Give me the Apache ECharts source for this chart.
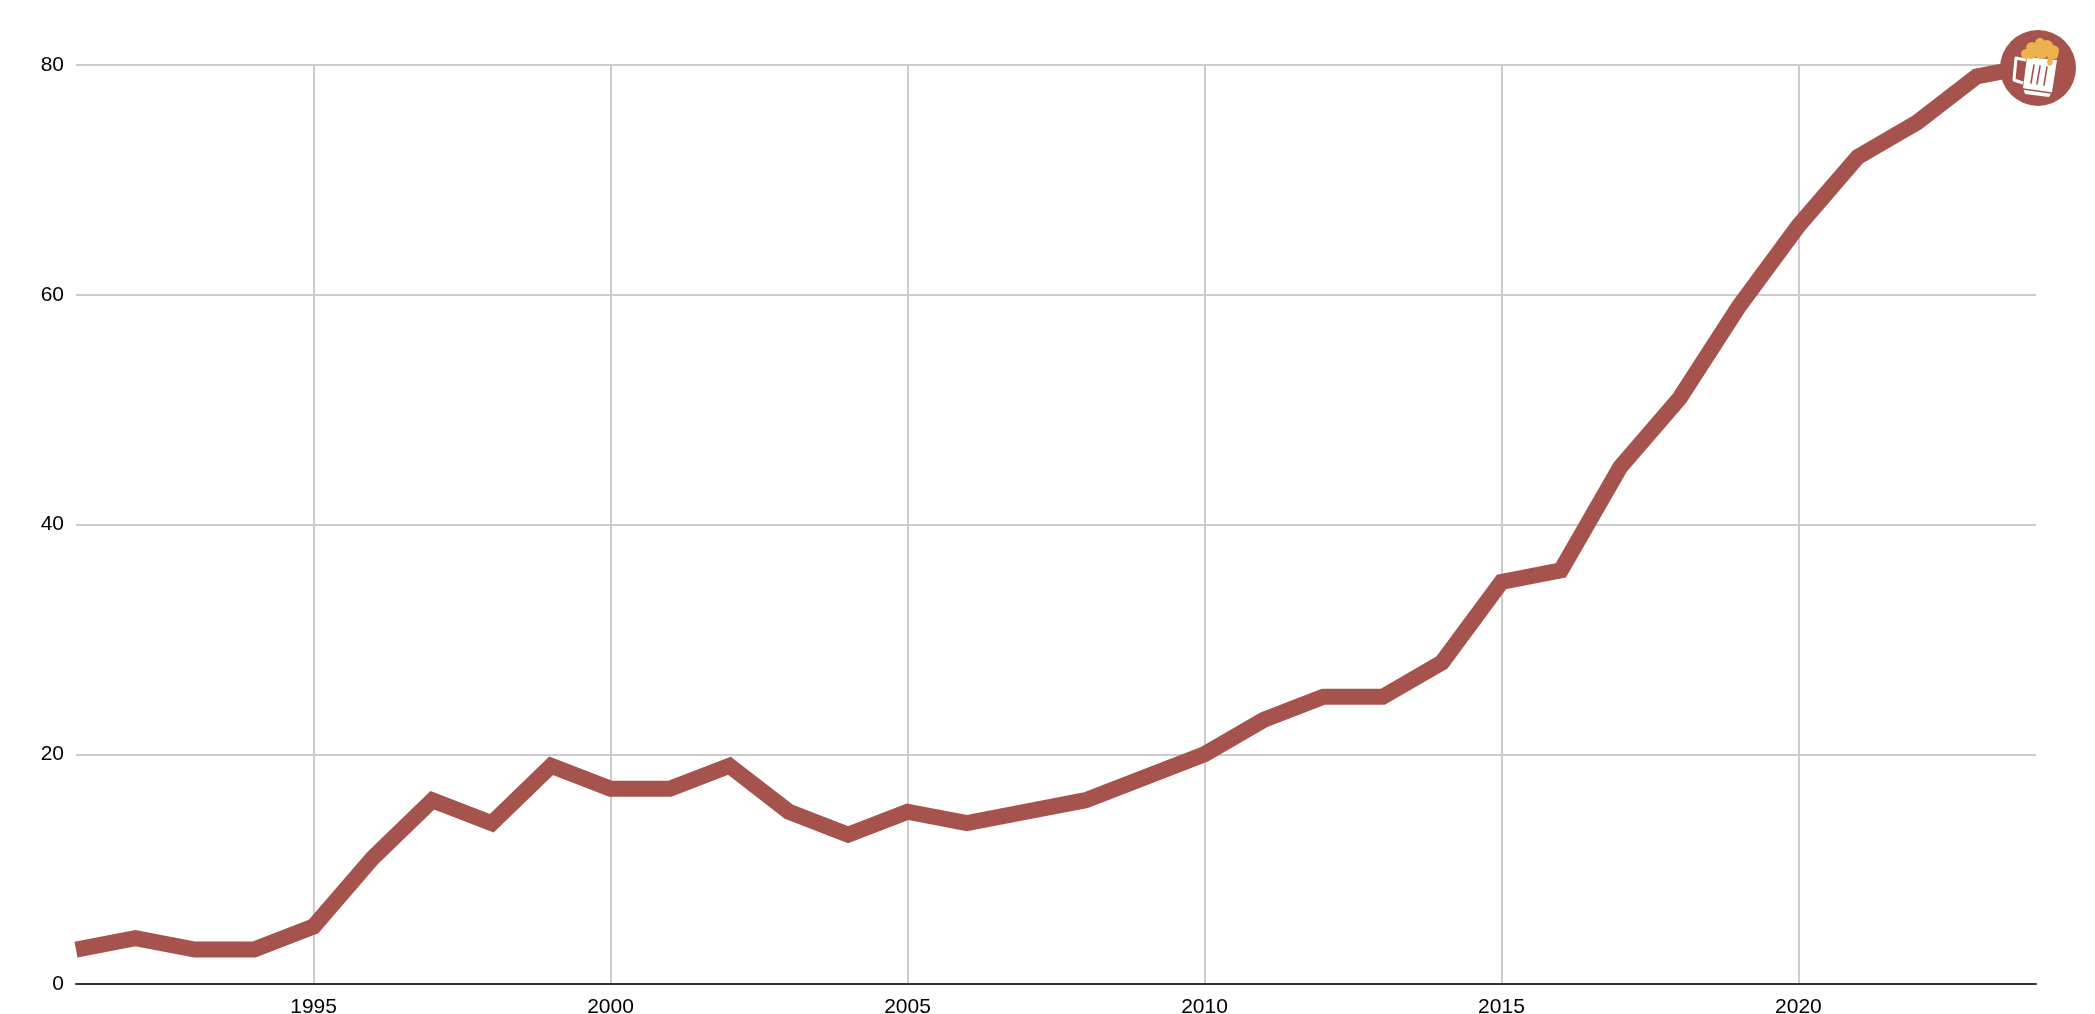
<!DOCTYPE html>
<html>
<head>
<meta charset="utf-8">
<style>html,body{margin:0;padding:0;background:#fff}#chart{width:2095px;height:1014px}</style>
<script src="https://cdn.jsdelivr.net/npm/echarts@6/dist/echarts.min.js"></script>
</head>
<body>
<div id="chart"></div>
<script>
// Yearly values plotted as a single thick line, ending in a beer mug badge.
const years = [1991,1992,1993,1994,1995,1996,1997,1998,1999,2000,2001,2002,2003,2004,2005,2006,2007,2008,2009,2010,2011,2012,2013,2014,2015,2016,2017,2018,2019,2020,2021,2022,2023,2024];
const values = [3,4,3,3,5,11,16,14,19,17,17,19,15,13,15,14,15,16,18,20,23,25,25,28,35,36,45,51,59,66,72,75,79,80];
const labelledYears = [1995,2000,2005,2010,2015,2020];
const badgeYear = 2024;
const badgeValue = 80;

const LINE = '#a5534c';
const FOAM = '#eeb24c';
const showYear = (i, name) => labelledYears.includes(Number(name));
const font = { fontFamily: '"Liberation Sans", Arial, sans-serif', fontSize: 21, color: '#000' };

// Badge pieces, in pixels relative to the badge centre.
function badge(params, api) {
  const [px, py] = api.coord([years.indexOf(badgeYear), badgeValue]);
  const dark = { stroke: LINE, lineWidth: 1.6, lineCap: 'round', fill: null };
  const foam = (cx, cy, r) => ({ type: 'circle', shape: { cx, cy, r }, style: { fill: FOAM } });
  const bar = (x1, y1, x2, y2) => ({ type: 'line', shape: { x1, y1, x2, y2 }, style: dark });
  return {
    type: 'group',
    x: px + 2,
    y: py + 3,
    children: [
      { type: 'circle', shape: { cx: 0, cy: 0, r: 38 }, style: { fill: LINE } },
      // handle
      { type: 'polyline', shape: { points: [[-12, -8], [-22, -10], [-24, 12], [-15, 15]] },
        style: { stroke: '#fff', lineWidth: 3, lineJoin: 'round', fill: null } },
      // glass
      { type: 'polygon', shape: { points: [[-11, -11], [19, -8], [14, 24], [11, 29], [-13, 26], [-15, 20]] },
        style: { fill: '#fff' } },
      bar(-4, -3, -7, 15), bar(2, -2, -1, 16), bar(9, -1, 6, 17), bar(-15, 21, 13, 25),
      // foam
      foam(-12, -14, 5), foam(-6, -20, 6), foam(2, -25, 5), foam(9, -22, 6),
      foam(15, -17, 6), foam(3, -17, 8), foam(-7, -14, 5), foam(16, -13, 4), foam(12, -5, 2.6),
      { type: 'rect', shape: { x: 9.4, y: -13, width: 5.2, height: 8 }, style: { fill: FOAM } }
    ]
  };
}

const chart = echarts.init(document.getElementById('chart'), null, { renderer: 'canvas' });
chart.setOption({
  animation: false,
  backgroundColor: '#fff',
  grid: { left: 76, right: 59, top: 65, bottom: 30, containLabel: false, outerBoundsMode: 'none' },
  xAxis: {
    type: 'category',
    data: years.map(String),
    boundaryGap: false,
    axisLine: { show: true, onZero: true, lineStyle: { color: '#333', width: 2 } },
    axisTick: { show: false },
    axisLabel: { ...font, interval: showYear, margin: 13 },
    splitLine: { show: true, interval: showYear, lineStyle: { color: '#ccc', width: 2 } }
  },
  yAxis: {
    type: 'value',
    min: 0,
    max: 80,
    interval: 20,
    axisLine: { show: false },
    axisTick: { show: false },
    axisLabel: { ...font, margin: 12 },
    splitLine: { lineStyle: { color: '#ccc', width: 2 } }
  },
  series: [
    {
      type: 'line',
      data: values,
      showSymbol: false,
      symbol: 'none',
      lineStyle: { color: LINE, width: 16, cap: 'butt', join: 'miter', miterLimit: 10 },
      z: 3
    },
    {
      type: 'custom',
      data: [[years.indexOf(badgeYear), badgeValue]],
      coordinateSystem: 'cartesian2d',
      renderItem: badge,
      clip: false,
      silent: true,
      z: 5
    }
  ]
});
</script>
</body>
</html>
